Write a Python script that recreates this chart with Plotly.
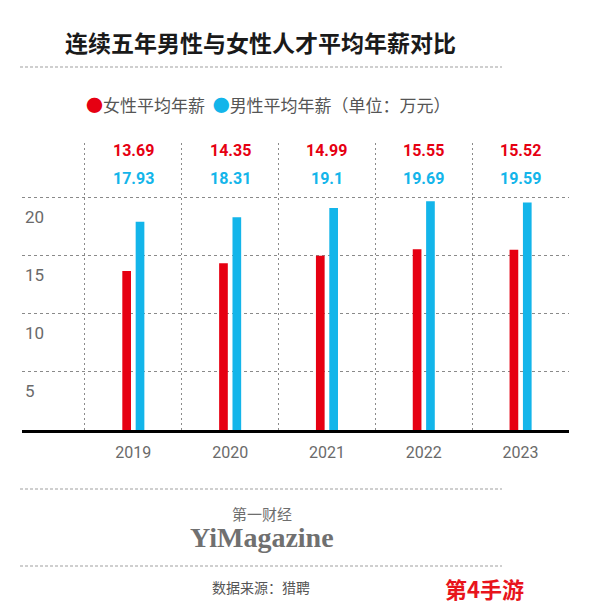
import plotly.graph_objects as go

years = ["2019", "2020", "2021", "2022", "2023"]
female = [13.69, 14.35, 14.99, 15.55, 15.52]
male = [17.93, 18.31, 19.1, 19.69, 19.59]
ytick_vals = [5, 10, 15, 20]

RED = "#e60012"
BLUE = "#13b5ea"
GRID = "#8a8a8a"
CJK = "Noto Sans CJK SC"
NUM = "Roboto, sans-serif"

# page body has an 8px margin, so the figure sits 8px in from the window corner
OFF = 8
FW, FH = 594 - OFF, 610 - OFF
# plot area in window pixels
L, R, T, B = 22, 569, 143, 430
W, H = R - L, B - T


def px_x(px):
    return (px - L) / W


def px_y(py):
    return (B - py) / H


def label(px, py, text, size, color, family=CJK, xanchor="center"):
    return dict(x=px_x(px), y=px_y(py), xref="paper", yref="paper", showarrow=False,
                xanchor=xanchor, yanchor="middle", text=text,
                font=dict(family=family, size=size, color=color))


xs = list(range(len(years)))
bounds = [i - 0.5 for i in range(len(years) + 1)]

fig = go.Figure()
fig.add_trace(go.Bar(x=xs, y=female, name="女性平均年薪", marker=dict(color=RED, line_width=0)))
fig.add_trace(go.Bar(x=xs, y=male, name="男性平均年薪", marker=dict(color=BLUE, line_width=0)))

annotations = []
# value labels above the grid
for i in xs:
    annotations.append(dict(x=i, xref="x", y=px_y(150), yref="paper", yanchor="middle", text=f"<b>{female[i]}</b>",
                            showarrow=False, font=dict(family=NUM, size=16, color=RED)))
    annotations.append(dict(x=i, xref="x", y=px_y(178), yref="paper", yanchor="middle", text=f"<b>{male[i]}</b>",
                            showarrow=False, font=dict(family=NUM, size=16, color=BLUE)))

annotations.append(label(260, 42, "<b>连续五年男性与女性人才平均年薪对比</b>", 23, "#1a1a1a"))
annotations.append(label(84, 104,
                         f"<span style='color:{RED}'>●</span>女性平均年薪  "
                         f"<span style='color:{BLUE}'>●</span>男性平均年薪（单位：万元）",
                         17, "#555555", xanchor="left"))
annotations.append(label(262, 513, "第一财经", 15, "#6e6e6e"))
annotations.append(label(262, 537, "<b>YiMagazine</b>", 28, "#707070", family="Liberation Serif, serif"))
annotations.append(label(261, 587, "数据来源：猎聘", 14, "#555555"))
annotations.append(label(484, 588, "<b>第4手游</b>", 22, "#e8141c"))

shapes = []
for py in (67, 489, 566):
    shapes.append(dict(type="line", xref="paper", yref="paper", x0=px_x(20), x1=px_x(502),
                       y0=px_y(py), y1=px_y(py), line=dict(color="#a0a0a0", width=1.2, dash="3px,2px")))

fig.update_layout(
    width=FW, height=FH,
    margin=dict(l=L - OFF, r=594 - R, t=T - OFF, b=610 - B, pad=0),
    paper_bgcolor="white", plot_bgcolor="white",
    barmode="group", bargap=0.724, bargroupgap=0.35,
    showlegend=False,
    annotations=annotations, shapes=shapes,
    xaxis=dict(
        range=[-1.15, 4.5], tickvals=xs, ticktext=years, showgrid=False, zeroline=False,
        showline=True, linecolor="black", linewidth=3,
        ticks="", ticklabelstandoff=6,
        tickfont=dict(family=NUM, size=16, color="#6a6a6a"),
        minor=dict(tickvals=bounds, showgrid=True, gridcolor=GRID, gridwidth=1.3, griddash="2px,3px", ticks=""),
    ),
    yaxis=dict(
        range=[0, 24.7], tickvals=ytick_vals, showgrid=True, gridcolor=GRID, gridwidth=1.3,
        griddash="3px,3px", zeroline=False, showline=False,
        ticklabelposition="inside", ticklabelshift=19, ticklabelstandoff=0,
        tickfont=dict(family=NUM, size=17, color="#6a6a6a"),
    ),
)

fig.write_html("out.html")
